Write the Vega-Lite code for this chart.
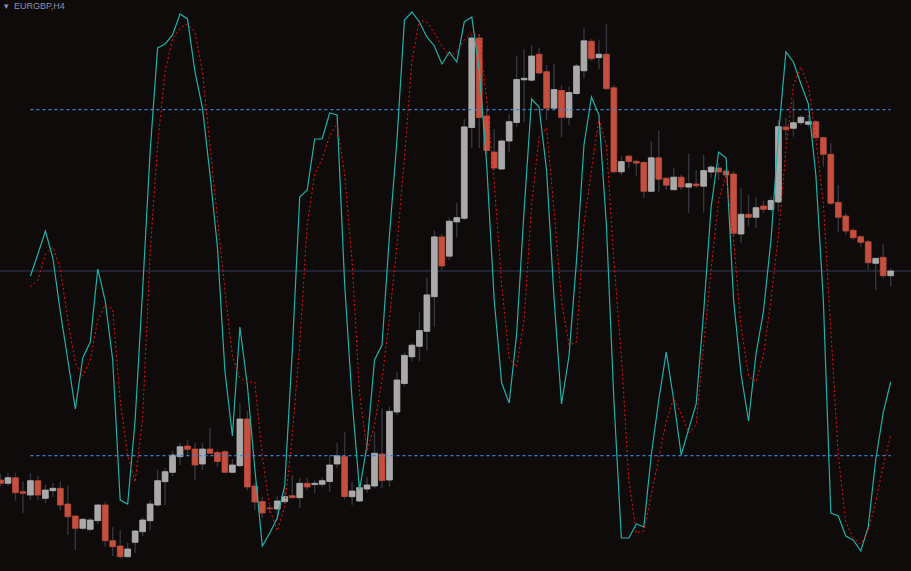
{
"$schema": "https://vega.github.io/schema/vega-lite/v6.json",
"width": 911, "height": 571,
"autosize": {"type": "none"},
"padding": 0,
"background": "#0e0b0a",
"config": {"view": {"stroke": null}},
"title": {"text": "▾\u00a0\u00a0EURGBP,H4", "anchor": "start", "frame": "group", "orient": "top", "offset": -9, "dy": 8.5, "baseline": "alphabetic", "dx": 4, "font": "Liberation Sans", "fontSize": 9, "fontWeight": "normal", "color": "#8a91b0"},
"datasets": {
"candles": [
{"i":0,"o":91,"h":97,"l":85,"c":87.7},{"i":1,"o":87.7,"h":98,"l":85,"c":93.3},{"i":2,"o":93.3,"h":98,"l":70.3,"c":78.3},{"i":3,"o":79.3,"h":89.3,"l":58.3,"c":77.7},{"i":4,"o":76,"h":98,"l":71,"c":90.3},{"i":5,"o":90.3,"h":95,"l":71,"c":76},{"i":6,"o":72.7,"h":86,"l":68,"c":81},{"i":7,"o":80.3,"h":88,"l":74.3,"c":82.7},{"i":8,"o":82.7,"h":89.3,"l":61,"c":66},{"i":9,"o":67,"h":85,"l":36,"c":54.3},
{"i":10,"o":55,"h":55.5,"l":21,"c":42.7},{"i":11,"o":42.7,"h":53,"l":41,"c":51.7},{"i":12,"o":41.7,"h":53,"l":40,"c":51},{"i":13,"o":50.3,"h":67,"l":47,"c":66},{"i":14,"o":66,"h":69.3,"l":24.3,"c":30.3},{"i":15,"o":30.3,"h":44,"l":15,"c":24.3},{"i":16,"o":25,"h":41,"l":12.7,"c":14.3},{"i":17,"o":14.3,"h":28,"l":13.7,"c":22},{"i":18,"o":28.7,"h":41,"l":18.3,"c":40},{"i":19,"o":39.3,"h":54,"l":35,"c":51},
{"i":20,"o":50.3,"h":71,"l":41,"c":67},{"i":21,"o":66,"h":101,"l":64.3,"c":90.3},{"i":22,"o":89.3,"h":103,"l":66,"c":99.3},{"i":23,"o":98.7,"h":120,"l":95,"c":116},{"i":24,"o":114.3,"h":128,"l":106,"c":124.3},{"i":25,"o":125,"h":131,"l":115,"c":121.7},{"i":26,"o":122,"h":128,"l":91,"c":106},{"i":27,"o":107,"h":128,"l":101,"c":122},{"i":28,"o":122,"h":143,"l":117.5,"c":117.7},{"i":29,"o":118.5,"h":121,"l":104,"c":109.5},
{"i":30,"o":119.3,"h":121,"l":98,"c":98.7},{"i":31,"o":98.7,"h":112,"l":98,"c":106},{"i":32,"o":105.3,"h":168,"l":104,"c":152},{"i":33,"o":152,"h":160,"l":81,"c":84},{"i":34,"o":85,"h":88,"l":61,"c":69},{"i":35,"o":69.5,"h":74,"l":53,"c":58},{"i":36,"o":63,"h":66,"l":58,"c":62.3},{"i":37,"o":62,"h":74.3,"l":51,"c":70},{"i":38,"o":69.3,"h":83,"l":67,"c":74.3},{"i":39,"o":75.3,"h":96,"l":72.7,"c":73.3},
{"i":40,"o":73.3,"h":93,"l":63.3,"c":87.7},{"i":41,"o":87.7,"h":93,"l":81,"c":84},{"i":42,"o":86.5,"h":91,"l":78,"c":87.7},{"i":43,"o":86.7,"h":93,"l":84,"c":90.3},{"i":44,"o":89.5,"h":116,"l":79.3,"c":106},{"i":45,"o":107,"h":128,"l":103,"c":115.3},{"i":46,"o":114.5,"h":139.3,"l":71.7,"c":74.5},{"i":47,"o":74.3,"h":89.3,"l":66,"c":80},{"i":48,"o":70,"h":89.3,"l":69,"c":83.3},{"i":49,"o":82,"h":94,"l":78.3,"c":86},
{"i":50,"o":85,"h":139.3,"l":82.7,"c":117.7},{"i":51,"o":117,"h":162.7,"l":82.7,"c":90.5},{"i":52,"o":91,"h":164.3,"l":84.3,"c":159.7},{"i":53,"o":159,"h":199,"l":156,"c":191},{"i":54,"o":187.5,"h":218.5,"l":185,"c":215.6},{"i":55,"o":214.2,"h":227.7,"l":209.4,"c":225.8},{"i":56,"o":224.7,"h":258.6,"l":209.4,"c":240.4},{"i":57,"o":239.7,"h":293.3,"l":220.3,"c":276.1},{"i":58,"o":274.3,"h":340.7,"l":244,"c":334.1},{"i":59,"o":334.1,"h":337,"l":301,"c":305},
{"i":60,"o":314.8,"h":353.5,"l":311,"c":349.8},{"i":61,"o":349.1,"h":368,"l":333.4,"c":353.4},{"i":62,"o":352.7,"h":452,"l":351,"c":444.1},{"i":63,"o":443.5,"h":536,"l":423,"c":533},{"i":64,"o":533,"h":537,"l":423,"c":453.5},{"i":65,"o":455,"h":463,"l":416,"c":420.5},{"i":66,"o":419,"h":442,"l":401,"c":403},{"i":67,"o":402,"h":431.5,"l":401,"c":430},{"i":68,"o":430,"h":456.5,"l":418.5,"c":449.3},{"i":69,"o":448.5,"h":515,"l":444,"c":491.5},
{"i":70,"o":491.2,"h":521.5,"l":449,"c":492.7},{"i":71,"o":490.8,"h":526,"l":489,"c":515},{"i":72,"o":516.8,"h":523,"l":497,"c":498},{"i":73,"o":499.3,"h":506,"l":451,"c":462.8},{"i":74,"o":462.8,"h":507,"l":462,"c":481.4},{"i":75,"o":480.5,"h":486,"l":433.5,"c":453.6},{"i":76,"o":453.6,"h":484.3,"l":446,"c":478.5},{"i":77,"o":477.5,"h":507,"l":476,"c":505},{"i":78,"o":500.2,"h":543.3,"l":492.4,"c":530.2},{"i":79,"o":529.8,"h":532,"l":510,"c":512.3},
{"i":80,"o":513.3,"h":531.5,"l":502,"c":516.8},{"i":81,"o":516.8,"h":546.7,"l":481.4,"c":482.3},{"i":82,"o":483.2,"h":486,"l":398,"c":399.2},{"i":83,"o":399.2,"h":415,"l":396,"c":409.4},{"i":84,"o":414.9,"h":416,"l":403,"c":409.4},{"i":85,"o":409.7,"h":411.4,"l":395.4,"c":407.9},{"i":86,"o":408.6,"h":409.6,"l":373.1,"c":379.7},{"i":87,"o":379.7,"h":429.7,"l":378.4,"c":413.2},{"i":88,"o":413.2,"h":440.2,"l":378.4,"c":391.8},{"i":89,"o":392.8,"h":394,"l":381,"c":385.8},
{"i":90,"o":381.3,"h":402.7,"l":380.8,"c":393.8},{"i":91,"o":393.8,"h":396.5,"l":381,"c":384},{"i":92,"o":383.9,"h":417.2,"l":358.3,"c":387.3},{"i":93,"o":387,"h":401,"l":383,"c":385.3},{"i":94,"o":384.8,"h":416,"l":358.3,"c":400.4},{"i":95,"o":399,"h":406,"l":393,"c":403.9},{"i":96,"o":403,"h":408,"l":391,"c":399},{"i":97,"o":400,"h":402,"l":393,"c":396},{"i":98,"o":397,"h":400,"l":335,"c":337.7},{"i":99,"o":337,"h":383,"l":328,"c":356.7},
{"i":100,"o":356.7,"h":376,"l":345,"c":353.7},{"i":101,"o":353.7,"h":374,"l":343,"c":363.3},{"i":102,"o":365,"h":370.3,"l":357.7,"c":361.7},{"i":103,"o":361.5,"h":374.3,"l":359.3,"c":370.5},{"i":104,"o":369,"h":451,"l":359.3,"c":444.3},{"i":105,"o":444,"h":453,"l":431,"c":441.5},{"i":106,"o":442.7,"h":471,"l":434.3,"c":448.3},{"i":107,"o":448.3,"h":456,"l":446,"c":453.7},{"i":108,"o":446.7,"h":456,"l":444,"c":449.3},{"i":109,"o":449.3,"h":451,"l":432.7,"c":433.3},
{"i":110,"o":433.3,"h":434.3,"l":404.3,"c":416.7},{"i":111,"o":416.7,"h":427.7,"l":366,"c":367.7},{"i":112,"o":368.7,"h":386,"l":339.3,"c":353.7},{"i":113,"o":355,"h":357.7,"l":336,"c":340},{"i":114,"o":340.7,"h":342.7,"l":331,"c":333.3},{"i":115,"o":334.3,"h":336,"l":324.3,"c":328.7},{"i":116,"o":329.3,"h":331,"l":301,"c":308.3},{"i":117,"o":307.7,"h":312.7,"l":281,"c":312.7},{"i":118,"o":313.7,"h":327,"l":292.7,"c":295.3},{"i":119,"o":295.3,"h":302.7,"l":284.3,"c":300}
],
"stoch": [
{"i":4,"k":51.15,"d":49.25},{"i":5,"k":54.97,"d":50.46},{"i":6,"k":58.96,"d":54.97},{"i":7,"k":54.27,"d":56.18},{"i":8,"k":44.91,"d":52.37},{"i":9,"k":36.59,"d":43.52},
{"i":10,"k":28.09,"d":36.07},{"i":11,"k":36.93,"d":33.81},{"i":12,"k":39.71,"d":36.59},{"i":13,"k":52.37,"d":43.52},{"i":14,"k":46.82,"d":46.12},{"i":15,"k":36.59,"d":45.43},{"i":16,"k":12.31,"d":29.65},{"i":17,"k":11.62,"d":20.11},{"i":18,"k":26.18,"d":15.43},{"i":19,"k":48.73,"d":26.53},
{"i":20,"k":72.65,"d":54.97},{"i":21,"k":90.69,"d":73.87},{"i":22,"k":91.38,"d":86.53},{"i":23,"k":92.94,"d":92.25},{"i":24,"k":96.58,"d":94.16},{"i":25,"k":95.72,"d":94.85},{"i":26,"k":86.53,"d":93.46},{"i":27,"k":80.28,"d":86.53},{"i":28,"k":68.84,"d":73.87},{"i":29,"k":56.18,"d":61.21},
{"i":30,"k":34.68,"d":48.73},{"i":31,"k":23.41,"d":37.28},{"i":32,"k":42.31,"d":33.47},{"i":33,"k":32.25,"d":32.77},{"i":34,"k":17.69,"d":32.77},{"i":35,"k":4.34,"d":20.11},{"i":36,"k":6.59,"d":10.75},{"i":37,"k":9.19,"d":6.94},{"i":38,"k":14.91,"d":11.27},{"i":39,"k":37.97,"d":23.41},
{"i":40,"k":64.85,"d":39.19},{"i":41,"k":66.07,"d":60.0},{"i":42,"k":74.91,"d":68.84},{"i":43,"k":74.91,"d":71.44},{"i":44,"k":79.42,"d":75.43},{"i":45,"k":79.07,"d":77.51},{"i":46,"k":49.94,"d":68.84},{"i":47,"k":29.65,"d":53.75},{"i":48,"k":14.05,"d":30.87},{"i":49,"k":21.85,"d":20.81},
{"i":50,"k":36.59,"d":25.32},{"i":51,"k":39.19,"d":33.12},{"i":52,"k":58.26,"d":43.87},{"i":53,"k":74.74,"d":56.53},{"i":54,"k":95.54,"d":71.61},{"i":55,"k":96.93,"d":88.43},{"i":56,"k":95.2,"d":95.54},{"i":57,"k":92.6,"d":95.2},{"i":58,"k":91.04,"d":93.29},{"i":59,"k":87.91,"d":91.04},
{"i":60,"k":90.0,"d":89.3},{"i":61,"k":88.26,"d":90.0},{"i":62,"k":95.2,"d":92.08},{"i":63,"k":96.06,"d":93.29},{"i":64,"k":86.87,"d":92.94},{"i":65,"k":70.4,"d":81.67},{"i":66,"k":46.99,"d":67.45},{"i":67,"k":32.6,"d":49.59},{"i":68,"k":29.13,"d":36.93},{"i":69,"k":41.1,"d":35.37},
{"i":70,"k":62.6,"d":43.52},{"i":71,"k":81.84,"d":63.46},{"i":72,"k":80.46,"d":75.26},{"i":73,"k":69.53,"d":76.82},{"i":74,"k":47.34,"d":62.6},{"i":75,"k":28.96,"d":46.82},{"i":76,"k":37.28,"d":39.19},{"i":77,"k":53.75,"d":39.71},{"i":78,"k":73.87,"d":60.0},{"i":79,"k":82.19,"d":69.53},
{"i":80,"k":79.07,"d":78.38},{"i":81,"k":60.0,"d":73.87},{"i":82,"k":29.65,"d":53.75},{"i":83,"k":5.72,"d":37.28},{"i":84,"k":5.72,"d":15.78},{"i":85,"k":8.15,"d":6.59},{"i":86,"k":7.63,"d":6.94},{"i":87,"k":20.11,"d":13.18},{"i":88,"k":29.65,"d":19.59},{"i":89,"k":37.97,"d":25.84},
{"i":90,"k":29.65,"d":30.0},{"i":91,"k":20.11,"d":27.22},{"i":92,"k":24.62,"d":23.93},{"i":93,"k":28.96,"d":25.32},{"i":94,"k":44.91,"d":39.19},{"i":95,"k":63.12,"d":52.37},{"i":96,"k":72.65,"d":64.33},{"i":97,"k":71.61,"d":68.67},{"i":98,"k":46.99,"d":57.4},{"i":99,"k":34.16,"d":42.31},
{"i":100,"k":26.01,"d":33.81},{"i":101,"k":37.63,"d":32.77},{"i":102,"k":45.08,"d":37.45},{"i":103,"k":57.4,"d":46.99},{"i":104,"k":75.6,"d":58.26},{"i":105,"k":90.0,"d":73.0},{"i":106,"k":88.26,"d":84.27},{"i":107,"k":84.45,"d":87.39},{"i":108,"k":80.98,"d":84.1},{"i":109,"k":68.67,"d":75.08},
{"i":110,"k":46.99,"d":63.81},{"i":111,"k":10.06,"d":41.79},{"i":112,"k":9.54,"d":20.11},{"i":113,"k":6.07,"d":8.5},{"i":114,"k":5.38,"d":5.72},{"i":115,"k":3.47,"d":4.68},{"i":116,"k":7.63,"d":6.94},{"i":117,"k":19.25,"d":11.96},{"i":118,"k":27.4,"d":18.21},{"i":119,"k":32.77,"d":23.58}
]
},
"resolve": {"scale": {"y": "independent"}},
"layer": [
{"data": {"values": [{"price": 300}]},
 "mark": {"type": "rule", "color": "#2a2c40", "strokeWidth": 1.5},
 "encoding": {"y": {"field": "price", "type": "quantitative", "scale": {"domain": [0, 571], "padding": 0}, "axis": null}}},
{"data": {"name": "candles"},
 "mark": {"type": "rule", "color": "#34363f", "strokeWidth": 1.4, "clip": true},
 "encoding": {
  "x": {"field": "i", "type": "quantitative", "scale": {"domain": [-0.067, 121.72], "nice": false, "zero": false, "padding": 0}, "axis": null},
  "y": {"field": "l", "type": "quantitative", "scale": {"domain": [0, 571], "padding": 0}, "axis": null},
  "y2": {"field": "h"}}},
{"data": {"name": "candles"},
 "mark": {"type": "bar", "width": 5.8, "strokeWidth": 0.8, "clip": true},
 "encoding": {
  "x": {"field": "i", "type": "quantitative", "scale": {"domain": [-0.067, 121.72], "nice": false, "zero": false, "padding": 0}, "axis": null},
  "y": {"field": "o", "type": "quantitative", "scale": {"domain": [0, 571], "padding": 0}, "axis": null},
  "y2": {"field": "c"},
  "color": {"condition": {"test": "datum.c >= datum.o", "value": "#a9a9a9"}, "value": "#c5503f"},
  "stroke": {"condition": {"test": "datum.c >= datum.o", "value": "#b4b4b4"}, "value": "#c04a3a"}}},
{"data": {"values": [{"a": 4, "b": 119, "lv": 80}, {"a": 4, "b": 119, "lv": 20}]},
 "mark": {"type": "rule", "color": "#3a7fd6", "strokeWidth": 1.2, "strokeDash": [3, 3], "clip": true},
 "encoding": {
  "x": {"field": "a", "type": "quantitative", "scale": {"domain": [-0.067, 121.72], "nice": false, "zero": false, "padding": 0}, "axis": null},
  "x2": {"field": "b"},
  "y": {"field": "lv", "type": "quantitative", "scale": {"domain": [0, 99.01], "nice": false, "zero": false, "padding": 0}, "axis": null}}},
{"data": {"name": "stoch"},
 "mark": {"type": "line", "color": "#20b2aa", "strokeWidth": 1.2, "clip": true},
 "encoding": {
  "x": {"field": "i", "type": "quantitative", "scale": {"domain": [-0.067, 121.72], "nice": false, "zero": false, "padding": 0}, "axis": null},
  "y": {"field": "k", "type": "quantitative", "scale": {"domain": [0, 99.01], "nice": false, "zero": false, "padding": 0}, "axis": null}}},
{"data": {"name": "stoch"},
 "mark": {"type": "line", "color": "#ee1111", "strokeWidth": 1, "strokeDash": [2, 2.5], "clip": true},
 "encoding": {
  "x": {"field": "i", "type": "quantitative", "scale": {"domain": [-0.067, 121.72], "nice": false, "zero": false, "padding": 0}, "axis": null},
  "y": {"field": "d", "type": "quantitative", "scale": {"domain": [0, 99.01], "nice": false, "zero": false, "padding": 0}, "axis": null}}}
]
}
